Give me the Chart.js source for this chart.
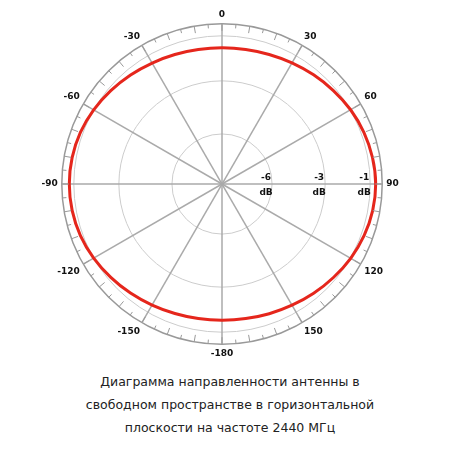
<!DOCTYPE html>
<html>
<head>
<meta charset="utf-8">
<script src="https://cdn.jsdelivr.net/npm/chart.js@4"></script>
<style>
  body { margin: 0; background: #fff; }
  #boite { position: absolute; left: 0; top: 0; width: 444px; height: 368px; }
  #legende { position: absolute; left: 0; top: 370px; width: 460px; text-align: center;
    font-family: "DejaVu Sans", sans-serif; font-size: 12.5px; line-height: 23px; color: #222; }
</style>
</head>
<body>
<div id="boite"><canvas id="chartDiagramme"></canvas></div>
<div id="legende">Диаграмма направленности антенны в<br>свободном пространстве в горизонтальной<br>плоскости на частоте 2440 МГц</div>
<script>
// angles tous les 10 degrés, en partant du haut, sens horaire
const angles = [0, 10, 20, 30, 40, 50, 60, 70, 80, 90, 100, 110, 120, 130, 140, 150, 160, 170,
  -180, -170, -160, -150, -140, -130, -120, -110, -100, -90, -80, -70, -60, -50, -40, -30, -20, -10];
// niveau relatif (échelle du tracé : 160 = bord)
const niveau = [136, 136.4, 137.7, 139.7, 142.3, 145.2, 148.3, 150.8, 152.6, 153.5, 152.8, 151, 148.4, 145.3, 142.4, 139.8, 137.9, 136.5,
  136, 136.4, 137.6, 139.6, 142.2, 145, 148, 150.5, 152, 152.5, 152, 150.5, 148, 145, 142.1, 139.5, 137.6, 136.3];
const cercles = [0, 50, 103, 148, 160];
const etiquettesDb = [["-6", 50], ["-3", 103], ["-1", 148]];

const decor = {
  id: "decor",
  afterDraw(chart) {
    const s = chart.scales.r;
    const ctx = chart.ctx;
    const cx = s.xCenter, cy = s.yCenter, R = s.drawingArea;
    ctx.save();
    ctx.strokeStyle = "#999";
    ctx.lineWidth = 1;
    for (let a = 0; a < 360; a += 5) {
      const t = a * Math.PI / 180;
      const l = a % 10 === 0 ? 7 : 4;
      ctx.beginPath();
      ctx.moveTo(cx + Math.sin(t) * R, cy - Math.cos(t) * R);
      ctx.lineTo(cx + Math.sin(t) * (R - l), cy - Math.cos(t) * (R - l));
      ctx.stroke();
    }
    ctx.fillStyle = "#111";
    ctx.font = "bold 9px 'DejaVu Sans'";
    ctx.textAlign = "center";
    etiquettesDb.forEach(([txt, v]) => {
      const x = cx + s.getDistanceFromCenterForValue(v) - 6;
      ctx.fillText(txt, x, cy - 4);
      ctx.fillText("dB", x, cy + 11);
    });
    ctx.restore();
  }
};

new Chart(document.getElementById("chartDiagramme"), {
  type: "radar",
  data: {
    labels: angles.map(String),
    datasets: [{
      data: niveau,
      borderColor: "#e5261c",
      borderWidth: 3,
      pointRadius: 0,
      fill: false,
      tension: 0.3
    }]
  },
  options: {
    responsive: true,
    maintainAspectRatio: false,
    animation: false,
    layout: { padding: { top: 10, bottom: 8, left: 10, right: 10 } },
    plugins: { legend: { display: false }, tooltip: { enabled: false } },
    scales: {
      r: {
        min: 0,
        max: 160,
        afterBuildTicks: s => { s.ticks = cercles.map(v => ({ value: v })); },
        ticks: { display: false },
        grid: { circular: true, color: ctx => ctx.index === 4 ? "#999" : "#ccc", lineWidth: ctx => ctx.index === 4 ? 1.5 : 1 },
        angleLines: { color: ctx => ctx.index % 3 === 0 ? "#aaa" : "rgba(0,0,0,0)", lineWidth: 1.5 },
        pointLabels: {
          padding: 4,
          color: "#111",
          font: { family: "DejaVu Sans", size: 9, weight: "bold" },
          callback: (l, i) => i % 3 === 0 ? l : ""
        }
      }
    }
  },
  plugins: [decor]
});
</script>
</body>
</html>
